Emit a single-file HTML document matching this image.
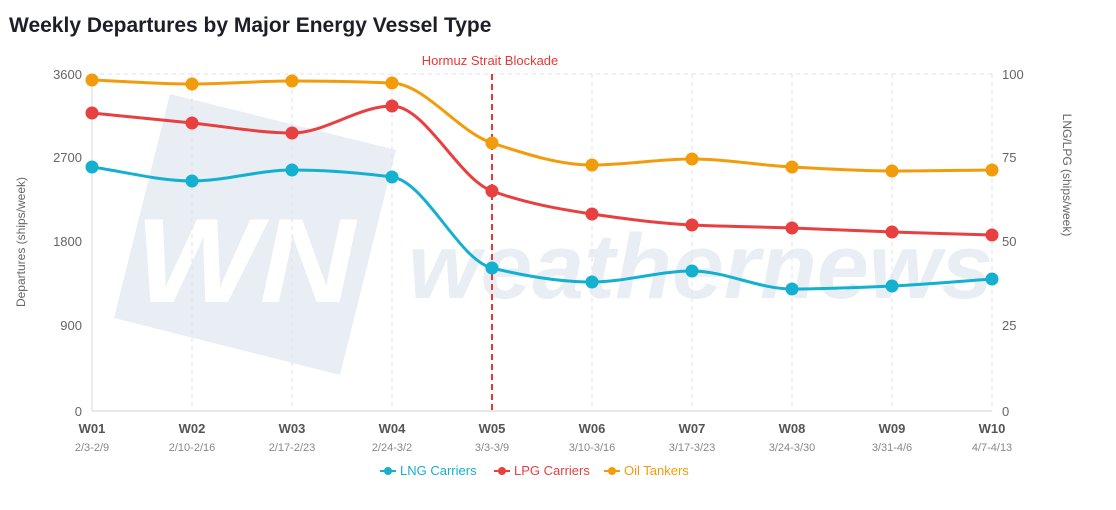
<!DOCTYPE html><html><head><meta charset="utf-8"><style>
body{margin:0;background:#fff;width:1116px;height:505px;overflow:hidden;font-family:"Liberation Sans",sans-serif}
</style></head><body>
<svg width="1116" height="505" xmlns="http://www.w3.org/2000/svg" font-family="Liberation Sans, sans-serif">
<text x="9" y="32" font-size="21" font-weight="bold" fill="#1e1e28">Weekly Departures by Major Energy Vessel Type</text>
<polygon points="170,94 396,150 340,375 114,318" fill="#e9eef5"/>
<text x="135" y="302" font-size="120" font-weight="bold" font-style="italic" fill="#fff" textLength="220" lengthAdjust="spacingAndGlyphs">WN</text>
<text x="408" y="298" font-size="92" font-weight="bold" font-style="italic" fill="#e9eef5" textLength="585" lengthAdjust="spacingAndGlyphs">weathernews</text>
<g id="grid" stroke="#e2e2e8" stroke-dasharray="4,4"></g>
<line x1="92" y1="74" x2="992" y2="74" stroke="#e2e2e8" stroke-dasharray="4,4"/>
<line x1="92" y1="74" x2="92" y2="411" stroke="#d8d8e0"/>
<line x1="92" y1="411" x2="992" y2="411" stroke="#d0d0da"/>
<g font-size="13" fill="#666" text-anchor="end">
<text x="82" y="79">3600</text><text x="82" y="246">1800</text><text x="82" y="162">2700</text><text x="82" y="330">900</text><text x="82" y="416">0</text></g>
<g font-size="13" fill="#666">
<text x="1002" y="79">100</text><text x="1002" y="162">75</text><text x="1002" y="246">50</text><text x="1002" y="330">25</text><text x="1002" y="416">0</text></g>
<text transform="translate(25,242) rotate(-90)" font-size="12" fill="#666" text-anchor="middle">Departures (ships/week)</text>
<text transform="translate(1063,175) rotate(90)" font-size="12" fill="#666" text-anchor="middle">LNG/LPG (ships/week)</text>
<line x1="492" y1="74" x2="492" y2="411" stroke="#e53935" stroke-width="2" stroke-dasharray="6,4"/>
<text x="490" y="65" font-size="13" fill="#e53935" text-anchor="middle">Hormuz Strait Blockade</text>
<g id="xl" text-anchor="middle"></g>
<g id="series"></g>
<g font-size="13">
<line x1="380" y1="471" x2="396" y2="471" stroke="#14b0d0" stroke-width="2"/><circle cx="388" cy="471" r="4" fill="#14b0d0"/><text x="400" y="475" fill="#14b0d0">LNG Carriers</text>
<line x1="494" y1="471" x2="510" y2="471" stroke="#e84040" stroke-width="2"/><circle cx="502" cy="471" r="4" fill="#e84040"/><text x="514" y="475" fill="#e84040">LPG Carriers</text>
<line x1="604" y1="471" x2="620" y2="471" stroke="#f39c0b" stroke-width="2"/><circle cx="612" cy="471" r="4" fill="#f39c0b"/><text x="624" y="475" fill="#f39c0b">Oil Tankers</text>
</g>
</svg>
<script>
var ns="http://www.w3.org/2000/svg";
function el(t,a,p,txt){var e=document.createElementNS(ns,t);for(var k in a)e.setAttribute(k,a[k]);if(txt)e.textContent=txt;p.appendChild(e);return e;}
var g=document.getElementById('grid'),xl=document.getElementById('xl'),s=document.getElementById('series');
var d=["2/3-2/9","2/10-2/16","2/17-2/23","2/24-3/2","3/3-3/9","3/10-3/16","3/17-3/23","3/24-3/30","3/31-4/6","4/7-4/13"];
for(var i=0;i<10;i++){var x=92+i*100;if(i>0&&i<10)el('line',{x1:x,y1:74,x2:x,y2:411},g);
el('text',{x:x,y:433,'font-size':13,'font-weight':'bold',fill:'#555'},xl,'W'+(i<9?'0':'')+(i+1));
el('text',{x:x,y:451,'font-size':11,fill:'#888'},xl,d[i]);}
var S=[["#f39c0b",[80,84,81,83,143,165,159,167,171,170]],["#e84040",[113,123,133,106,191,214,225,228,232,235]],["#14b0d0",[167,181,170,177,268,282,271,289,286,279]]];
S.forEach(function(q){var y=q[1],n=y.length,m=[];
for(var i=0;i<n;i++){var a=i>0?(y[i]-y[i-1]):0,b=i<n-1?(y[i+1]-y[i]):0;
if(i==0)m[i]=b;else if(i==n-1)m[i]=a;else m[i]=(a*b<=0)?0:2*a*b/(a+b);}
var p="M92,"+y[0];for(var i=1;i<n;i++){var x0=92+(i-1)*100,x1=x0+100;
p+=" C"+(x0+33.3)+","+(y[i-1]+m[i-1]/3)+" "+(x1-33.3)+","+(y[i]-m[i]/3)+" "+x1+","+y[i];}
el('path',{d:p,fill:'none',stroke:q[0],'stroke-width':3},s);
for(var i=0;i<n;i++)el('circle',{cx:92+i*100,cy:y[i],r:6.5,fill:q[0]},s);});
</script>
</body></html>
